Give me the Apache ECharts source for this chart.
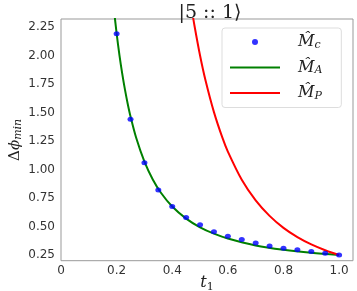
<!DOCTYPE html>
<html>
<head>
<meta charset="utf-8">
<script src="https://cdn.jsdelivr.net/npm/echarts@6/dist/echarts.min.js"></script>
<style>html,body{margin:0;padding:0;background:#fff;}#c{width:357px;height:291px;}</style>
</head>
<body>
<div id="c"></div>
<script>
// Blue points: M_c
var mcT = [0.2,0.25,0.3,0.35,0.4,0.45,0.5,0.55,0.6,0.65,0.7,0.75,0.8,0.85,0.9,0.95,1.0];
var mcV = [2.19,1.44,1.06,0.82,0.675,0.58,0.515,0.455,0.415,0.385,0.355,0.33,0.31,0.295,0.28,0.265,0.25];
// Green curve: M_A
var maT = [0.19,0.2,0.21,0.22,0.23,0.24,0.25,0.27,0.3,0.33,0.36,0.4,0.45,0.5,0.55,0.6,0.7,0.8,0.9,1.0];
var maV = [2.413,2.194,2.006,1.843,1.700,1.575,1.465,1.280,1.069,0.913,0.794,0.675,0.569,0.493,0.437,0.394,0.334,0.296,0.269,0.25];
// Red curve: M_P
var mpT = [0.47,0.48,0.5,0.52,0.55,0.58,0.6,0.65,0.7,0.75,0.8,0.85,0.9,0.95,1.0];
var mpV = [2.408,2.261,2.0,1.778,1.503,1.281,1.157,0.910,0.729,0.593,0.488,0.407,0.343,0.292,0.25];
var title = '|5 :: 1\u27E9';

function zip(a,b){return a.map(function(v,i){return [v,b[i]];});}

var serif = 'DejaVu Serif';
var lineIcon = 'path://M0,0L50,0L50,2L0,2Z';
var chart = echarts.init(document.getElementById('c'));
chart.setOption({
  animation:false,
  backgroundColor:'#fff',
  title:{text:title,left:205,top:-1,textAlign:'center',textStyle:{fontFamily:serif,fontWeight:'normal',fontSize:19,color:'#222'}},
  grid:{left:61,right:4,top:19,bottom:30.3,show:true,borderColor:'#999',borderWidth:1,containLabel:false,outerBoundsMode:'none'},
  legend:{
    left:222,top:28,orient:'vertical',
    itemWidth:50,itemHeight:6,itemGap:9,
    padding:[6,19,6,8],
    borderColor:'#ddd',borderWidth:1,borderRadius:3,backgroundColor:'rgba(255,255,255,0.8)',
    symbolKeepAspect:true,
    data:[{name:'c',icon:'circle'},{name:'A',icon:lineIcon},{name:'P',icon:lineIcon}],
    formatter:function(n){return '{m|M\u0302}{s|'+n+'}';},
    textStyle:{rich:{
      m:{fontFamily:serif,fontStyle:'italic',fontSize:16,color:'#222',padding:[0,0,0,13]},
      s:{fontFamily:serif,fontStyle:'italic',fontSize:11,color:'#222',verticalAlign:'bottom',padding:[6,0,0,0]}
    }}
  },
  xAxis:{type:'value',min:0,max:1.05,interval:0.2,
    axisLine:{show:false},axisTick:{show:false},splitLine:{show:false},
    axisLabel:{showMaxLabel:false,fontFamily:'DejaVu Sans',fontSize:12,color:'#333',margin:4,
      formatter:function(v){return v===0?'0':v.toFixed(1);}},
    name:'{t|t}{s|1}',nameLocation:'middle',nameGap:13,nameMoveOverlap:false,
    nameTextStyle:{rich:{t:{fontFamily:serif,fontStyle:'italic',fontSize:16,color:'#222'},s:{fontFamily:serif,fontSize:11,color:'#222',padding:[8,0,0,0]}}}
  },
  yAxis:{type:'value',min:0.2,max:2.32,interval:0.05,
    axisLine:{show:false},axisTick:{show:false},splitLine:{show:false},
    axisLabel:{fontFamily:'DejaVu Sans',fontSize:12,color:'#333',margin:6,showMaxLabel:false,
      formatter:function(v){var q=v/0.25;return Math.abs(q-Math.round(q))<1e-6?v.toFixed(2):'';}},
    name:'{d|\u0394}{p|\u03D5}{s|min}',nameLocation:'middle',nameGap:37,nameRotate:90,nameMoveOverlap:false,
    nameTextStyle:{rich:{d:{fontFamily:serif,fontSize:15,color:'#222'},p:{fontFamily:serif,fontStyle:'italic',fontSize:15,color:'#222'},s:{fontFamily:serif,fontStyle:'italic',fontSize:11,color:'#222',padding:[7,0,0,0]}}}
  },
  series:[
    {name:'A',type:'line',data:zip(maT,maV),smooth:0.3,symbol:'none',lineStyle:{color:'#008000',width:2},itemStyle:{color:'#008000'},clip:true,z:2},
    {name:'P',type:'line',data:zip(mpT,mpV),smooth:0.3,symbol:'none',lineStyle:{color:'#ff0000',width:2},itemStyle:{color:'#ff0000'},clip:true,z:2},
    {name:'c',type:'scatter',data:zip(mcT,mcV),symbol:'circle',symbolSize:[6,5],itemStyle:{color:'#0000ff'},z:3}
  ]
});
</script>
</body>
</html>
